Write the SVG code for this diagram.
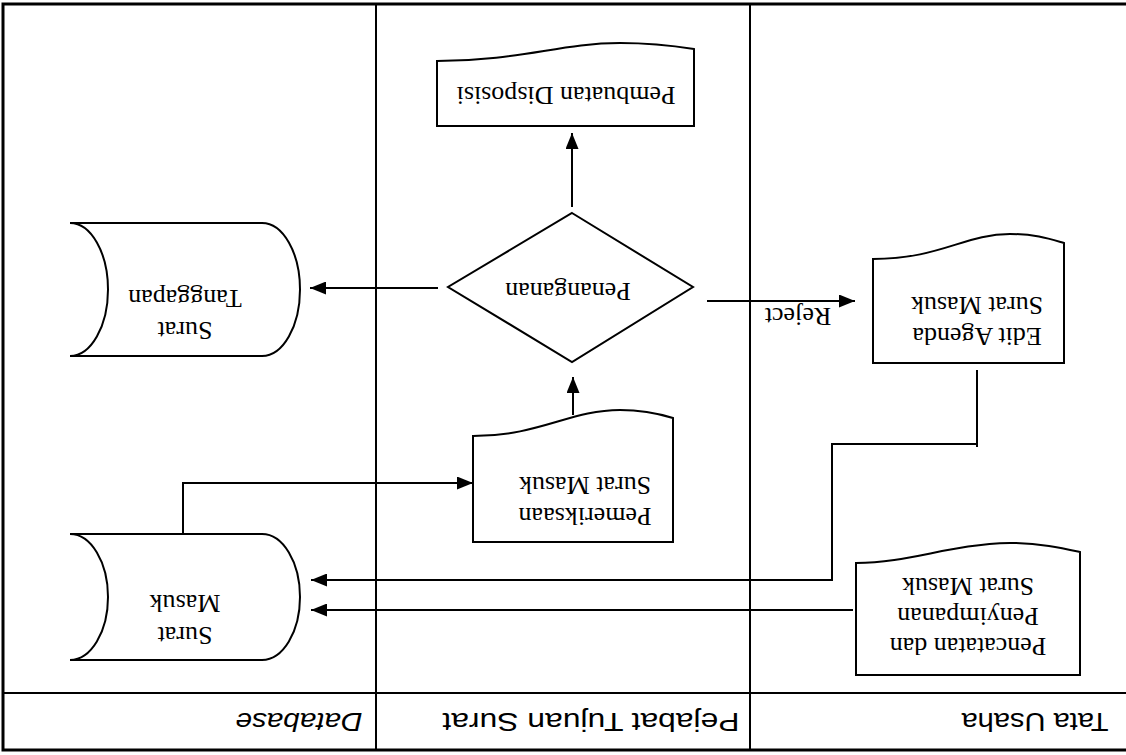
<svg xmlns="http://www.w3.org/2000/svg" width="1126" height="755" viewBox="0 0 1126 755">
<defs>
<style>
.shape{fill:#fff;stroke:#000;stroke-width:2}
.conn{fill:none;stroke:#000;stroke-width:2}
.lbl{font-family:"Liberation Serif","Times New Roman",serif;font-size:26px;fill:#000;text-anchor:middle}
.hdr{font-family:"Liberation Sans",Arial,sans-serif;font-size:25px;fill:#000;text-anchor:middle;dominant-baseline:central}
.lane{fill:none;stroke:#000;stroke-width:2}
</style>
<marker id="arr" markerUnits="userSpaceOnUse" markerWidth="16" markerHeight="13" refX="16" refY="6.5" orient="auto">
<path d="M0,0 L16,6.5 L0,13 Z" fill="#000"/>
</marker>
</defs>
<rect x="0" y="0" width="1126" height="755" fill="#fff"/>
<g id="lanes">
<path d="M1126,4 H3 V750 H1126" fill="none" stroke="#000" stroke-width="3"/>
<line class="lane" x1="3" y1="693" x2="1126" y2="693"/>
<line class="lane" x1="376" y1="4" x2="376" y2="750"/>
<line class="lane" x1="750" y1="4" x2="750" y2="750"/>
<text class="hdr" x="1035" y="722" textLength="147" lengthAdjust="spacingAndGlyphs" transform="rotate(180 1035 722)">Tata Usaha</text>
<text class="hdr" x="591" y="722" textLength="297" lengthAdjust="spacingAndGlyphs" transform="rotate(180 591 722)">Pejabat Tujuan Surat</text>
<text class="hdr" x="299" y="722" font-style="italic" textLength="127" lengthAdjust="spacingAndGlyphs" transform="rotate(180 299 722)">Database</text>
</g>
<g id="connectors">
<path class="conn" d="M183,534 V483 H473" marker-end="url(#arr)"/>
<path class="conn" d="M573,415 V377" marker-end="url(#arr)"/>
<path class="conn" d="M572,207 V133" marker-end="url(#arr)"/>
<path class="conn" d="M438,288 H310" marker-end="url(#arr)"/>
<path class="conn" d="M707,301 H855" marker-end="url(#arr)"/>
<path class="conn" d="M977,370 V447"/>
<path class="conn" d="M977,444 H832 V580 H311" marker-end="url(#arr)"/>
<path class="conn" d="M853,610 H311" marker-end="url(#arr)"/>
<text class="lbl" x="798" y="324" transform="rotate(180 798 316)">Reject</text>
</g>
<g id="pembuatan-disposisi">
<path class="shape" d="M437,61 C520,61 560,43 620,43 C650,43 675,46 694,49 L694,126 L437,126 Z"/>
<text class="lbl" x="566" y="103" transform="rotate(180 566 95)">Pembuatan Disposisi</text>
</g>
<g id="penanganan">
<path class="shape" d="M572,213 L693,287 L572,362 L448,287 Z"/>
<text class="lbl" x="568" y="300" transform="rotate(180 568 291.5)">Penanganan</text>
</g>
<g id="pemeriksaan">
<path class="shape" d="M473,436 C540,436 570,410 620,410 C645,410 660,414 673,418 L673,542 L473,542 Z"/>
<text class="lbl" transform="rotate(180 585 492.5)"><tspan x="585" y="477">Pemeriksaan</tspan><tspan x="585" y="508">Surat Masuk</tspan></text>
</g>
<g id="edit-agenda">
<path class="shape" d="M873,259 C940,259 965,234 1010,234 C1035,234 1050,239 1064,243 L1064,363 L873,363 Z"/>
<text class="lbl" transform="rotate(180 977 312.5)"><tspan x="977" y="297">Edit Agenda</tspan><tspan x="977" y="328">Surat Masuk</tspan></text>
</g>
<g id="pencatatan">
<path class="shape" d="M856,563 C910,563 950,544 1010,543 C1040,543 1062,548 1080,552 L1080,675 L856,675 Z"/>
<text class="lbl" transform="rotate(180 968 608)"><tspan x="968" y="578">Pencatatan dan</tspan><tspan x="968" y="608">Penyimpanan</tspan><tspan x="968" y="638">Surat Masuk</tspan></text>
</g>
<g id="surat-tanggapan">
<path class="shape" d="M70,223 L262,223 A38,66.5 0 0 1 262,356 L70,356 A38,66.5 0 0 0 70,223 Z"/>
<text class="lbl" transform="rotate(180 185 306)"><tspan x="185" y="290">Surat</tspan><tspan x="185" y="322">Tanggapan</tspan></text>
</g>
<g id="surat-masuk">
<path class="shape" d="M70,534 L262,534 A38,63 0 0 1 262,660 L70,660 A38,63 0 0 0 70,534 Z"/>
<text class="lbl" transform="rotate(180 185 611)"><tspan x="185" y="595">Surat</tspan><tspan x="185" y="627">Masuk</tspan></text>
</g>
</svg>
